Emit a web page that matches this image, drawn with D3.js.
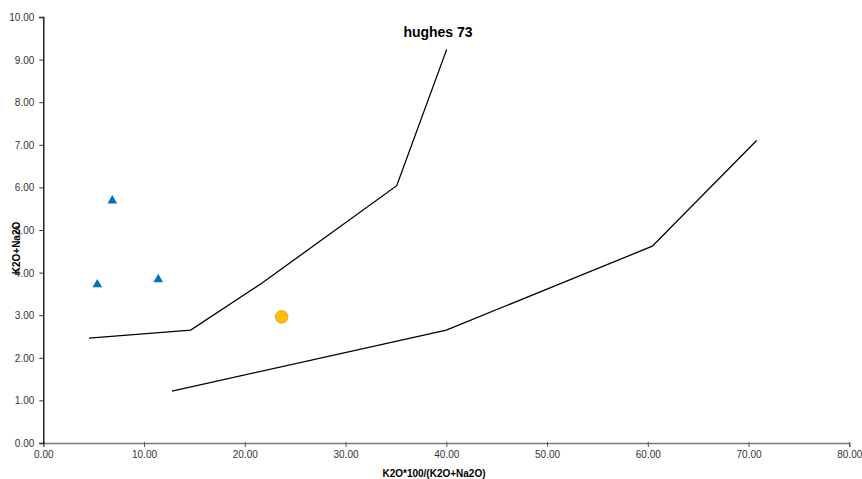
<!DOCTYPE html>
<html>
<head>
  <style>
    body{
      margin:0;
      background:#fff;
      font-family: "Liberation Sans", Arial, sans-serif;
    }
    .tick text{
      fill:#333;
      font-size:10px;
    }
    .title{
      font-size:14px;
      font-weight:bold;
    }
    .axis-label{
      font-size:10px;
      font-weight:bold;
    }
  </style>
  <script src="https://d3js.org/d3.v7.min.js"></script>
</head>
<body>
<div class="chart"></div>
<script>
// field boundary lines (Hughes 1973)
const upperLine = [[4.54, 2.46], [14.63, 2.65], [21.68, 3.75], [35.08, 6.04], [40.04, 9.24]];
const lowerLine = [[12.77, 1.22], [40.0, 2.65], [60.45, 4.62], [70.8, 7.1]];
// samples
const triangles = [[6.85, 5.69], [5.36, 3.72], [11.41, 3.84]];
const circles = [[23.66, 2.96]];
const xTicks = [0, 10, 20, 30, 40, 50, 60, 70, 80];
const yTicks = [0, 1, 2, 3, 4, 5, 6, 7, 8, 9, 10];

const width = 862;
const height = 479;

const svg = d3.select('.chart')
  .append('svg')
  .attr('width', width)
  .attr('height', height);

const x = d3.scaleLinear().domain([0, 80]).range([43.3, 849.3]);
const y = d3.scaleLinear().domain([0, 10]).range([443, 17]);

// x axis
const xAxis = svg.append('g')
  .attr('transform', `translate(0,${y(0)})`)
  .call(d3.axisBottom(x).tickValues(xTicks).tickFormat(d3.format('.2f')).tickSizeOuter(0).tickSize(4).tickPadding(4));
xAxis.select('.domain').attr('stroke', '#777').attr('stroke-width', 1.3);
xAxis.selectAll('.tick line').attr('stroke', '#555').attr('y1', -1);

// y axis
const yAxis = svg.append('g')
  .attr('transform', `translate(${x(0)},0)`)
  .call(d3.axisLeft(y).tickValues(yTicks).tickFormat(d3.format('.2f')).tickSizeOuter(0).tickSize(4).tickPadding(5));
yAxis.select('.domain').attr('stroke', '#000').attr('stroke-width', 1.3);
yAxis.selectAll('.tick line').attr('stroke', '#333');
yAxis.selectAll('.tick text').attr('dy', '0.35em');

const line = d3.line().x(d => x(d[0])).y(d => y(d[1]));

[upperLine, lowerLine].forEach(pts => {
  svg.append('path')
    .datum(pts)
    .attr('d', line)
    .attr('fill', 'none')
    .attr('stroke', '#000')
    .attr('stroke-width', 1.3);
});

svg.selectAll('.tri')
  .data(triangles)
  .enter().append('path')
  .attr('class', 'tri')
  .attr('d', d3.symbol().type(d3.symbolTriangle).size(40))
  .attr('transform', d => `translate(${x(d[0])},${y(d[1])})`)
  .attr('fill', '#0070C0');

svg.selectAll('.circ')
  .data(circles)
  .enter().append('circle')
  .attr('class', 'circ')
  .attr('cx', d => x(d[0]))
  .attr('cy', d => y(d[1]))
  .attr('r', 6.3)
  .attr('fill', '#FFC000')
  .attr('stroke', '#F28E2B')
  .attr('stroke-width', 0.8);

svg.append('text')
  .attr('class', 'title')
  .attr('x', 438)
  .attr('y', 37)
  .attr('text-anchor', 'middle')
  .text('hughes 73');

svg.append('text')
  .attr('class', 'axis-label')
  .attr('x', 434)
  .attr('y', 477)
  .attr('text-anchor', 'middle')
  .text('K2O*100/(K2O+Na2O)');

svg.append('text')
  .attr('class', 'axis-label')
  .attr('transform', 'translate(20,248) rotate(-90)')
  .attr('text-anchor', 'middle')
  .text('K2O+Na2O');
</script>
</body>
</html>
